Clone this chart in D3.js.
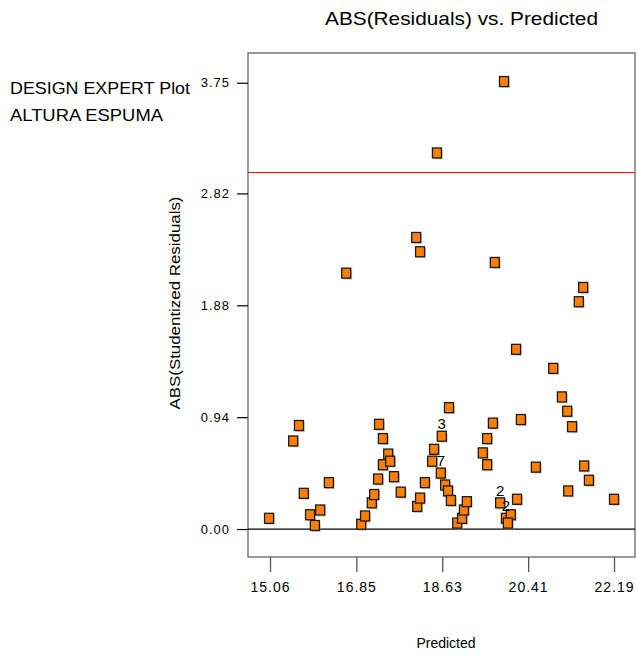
<!DOCTYPE html>
<html>
<head>
<meta charset="utf-8">
<script src="https://cdn.jsdelivr.net/npm/d3@7/dist/d3.min.js"></script>
<style>
  body { margin: 0; background: #fff; }
  svg text { font-family: Arial, "Liberation Sans", sans-serif; fill: #000; }
</style>
</head>
<body>
<svg id="chart"></svg>
<script>
// Predicted values (x) and ABS(studentized residuals) (y)
const predicted = [
  15.04, 15.54, 15.66, 15.76, 15.89, 15.99, 16.10, 16.28, 16.64, 16.95,
  17.03, 17.17, 17.22, 17.30, 17.32, 17.40, 17.40, 17.51, 17.55, 17.63,
  17.77, 18.09, 18.17, 18.11, 18.17, 18.27, 18.52, 18.46, 18.42, 18.62,
  18.60, 18.69, 18.75, 18.81, 18.77, 18.94, 19.04, 19.08, 19.14, 19.47,
  19.56, 19.56, 19.68, 19.72, 19.91, 19.83, 19.95, 20.05, 19.99, 20.18,
  20.16, 20.26, 20.57, 20.93, 21.11, 21.22, 21.32, 21.24, 21.57, 21.67,
  21.46, 21.55, 22.19
];
const absResid = [
  0.09, 0.74, 0.87, 0.30, 0.12, 0.03, 0.16, 0.39, 2.15, 0.04,
  0.11, 0.22, 0.29, 0.42, 0.88, 0.76, 0.54, 0.63, 0.57, 0.44,
  0.31, 2.45, 2.33, 0.19, 0.26, 0.39, 3.16, 0.67, 0.57, 0.78,
  0.47, 0.37, 0.32, 0.24, 1.02, 0.05, 0.09, 0.16, 0.23, 0.64,
  0.54, 0.76, 0.89, 2.24, 3.76, 0.22, 0.09, 0.12, 0.05, 0.25,
  1.51, 0.92, 0.52, 1.35, 1.11, 0.99, 0.86, 0.32, 0.53, 0.41,
  1.91, 2.03, 0.25
];

// counts shown next to coincident points
const countX = [18.62, 18.60, 19.83, 19.95];
const countY = [0.78, 0.47, 0.22, 0.09];
const countText = ['3', '7', '2', '2'];

const xTicks = [15.06, 16.85, 18.63, 20.41, 22.19];
const yTicks = [0.00, 0.94, 1.88, 2.82, 3.75];
const limitLine = 3.00;

const width = 637, height = 656;
const plotLeft = 248, plotRight = 635, plotTop = 53, plotBottom = 557;

const svg = d3.select('#chart').attr('width', width).attr('height', height);

const x = d3.scaleLinear().domain([14.604, 22.625]).range([plotLeft, plotRight]);
const y = d3.scaleLinear().domain([-0.235, 4.0]).range([plotBottom, plotTop]);

// Titles (narrow, tightly set like the original)
svg.append('text')
  .attr('x', 325).attr('y', 25)
  .attr('textLength', 273).attr('lengthAdjust', 'spacingAndGlyphs')
  .style('font-size', '19px')
  .text('ABS(Residuals) vs. Predicted');

svg.append('text')
  .attr('x', 10).attr('y', 94)
  .attr('textLength', 180).attr('lengthAdjust', 'spacingAndGlyphs')
  .style('font-size', '17px')
  .text('DESIGN EXPERT Plot');

svg.append('text')
  .attr('x', 10).attr('y', 121)
  .attr('textLength', 153).attr('lengthAdjust', 'spacingAndGlyphs')
  .style('font-size', '17px')
  .text('ALTURA ESPUMA');

// Frame
svg.append('rect')
  .attr('x', plotLeft).attr('y', plotTop)
  .attr('width', plotRight - plotLeft).attr('height', plotBottom - plotTop)
  .attr('fill', 'none')
  .attr('stroke', '#7a7a7a')
  .attr('stroke-width', 1.5);

// X axis
const xAxis = svg.append('g')
  .attr('transform', `translate(0,${plotBottom})`)
  .call(d3.axisBottom(x).tickValues(xTicks).tickFormat(d3.format('.2f')).tickSize(15).tickSizeOuter(0));
xAxis.select('.domain').remove();
xAxis.selectAll('line').attr('stroke', '#555').attr('stroke-width', 1.3);
xAxis.selectAll('text')
  .attr('dy', '0')
  .attr('y', 35)
  .style('font-size', '14px')
  .style('letter-spacing', '1px')
  .style('font-family', 'Arial, "Liberation Sans", sans-serif');

// Y axis
const yAxis = svg.append('g')
  .attr('transform', `translate(${plotLeft},0)`)
  .call(d3.axisLeft(y).tickValues(yTicks).tickFormat(d3.format('.2f')).tickSize(11).tickSizeOuter(0));
yAxis.select('.domain').remove();
yAxis.selectAll('line').attr('stroke', '#000').attr('stroke-width', 1.2);
yAxis.selectAll('text')
  .attr('x', -18)
  .style('font-size', '13px')
  .style('letter-spacing', '1px')
  .style('font-family', 'Arial, "Liberation Sans", sans-serif');

// zero line and limit line
svg.append('line')
  .attr('x1', plotLeft).attr('x2', plotRight)
  .attr('y1', y(0)).attr('y2', y(0))
  .attr('stroke', '#000').attr('stroke-width', 1.2);

const yLimit = Math.round(y(limitLine)) + 0.5;
svg.append('line')
  .attr('x1', plotLeft).attr('x2', plotRight)
  .attr('y1', yLimit).attr('y2', yLimit)
  .attr('stroke', '#ff0000').attr('stroke-width', 1);

// Axis titles
svg.append('text')
  .attr('transform', 'translate(180,303) rotate(-90)')
  .attr('text-anchor', 'middle')
  .attr('textLength', 213).attr('lengthAdjust', 'spacingAndGlyphs')
  .style('font-size', '14px')
  .text('ABS(Studentized Residuals)');

svg.append('text')
  .attr('x', 446).attr('y', 648)
  .attr('text-anchor', 'middle')
  .style('font-size', '14px')
  .text('Predicted');

// Points: shadow + orange square
const pts = predicted.map((p, i) => ({ p, r: absResid[i] }));
const w = 9, h = 10;

svg.append('g').selectAll('rect')
  .data(pts)
  .enter().append('rect')
  .attr('x', d => x(d.p) - w / 2 + 1.5)
  .attr('y', d => y(d.r) - h / 2 + 1.5)
  .attr('width', w).attr('height', h)
  .attr('fill', '#a0a0a0')
  .attr('opacity', 0.5);

svg.append('g').selectAll('rect')
  .data(pts)
  .enter().append('rect')
  .attr('x', d => x(d.p) - w / 2)
  .attr('y', d => y(d.r) - h / 2)
  .attr('width', w).attr('height', h)
  .attr('fill', '#ff8000')
  .attr('stroke', '#1a1a1a')
  .attr('stroke-width', 1.3);

// overlap counts
svg.append('g').selectAll('text')
  .data(countText)
  .enter().append('text')
  .attr('x', (d, i) => x(countX[i]))
  .attr('y', (d, i) => y(countY[i]) - 7)
  .attr('text-anchor', 'middle')
  .style('font-size', '15px')
  .text(d => d);
</script>
</body>
</html>
